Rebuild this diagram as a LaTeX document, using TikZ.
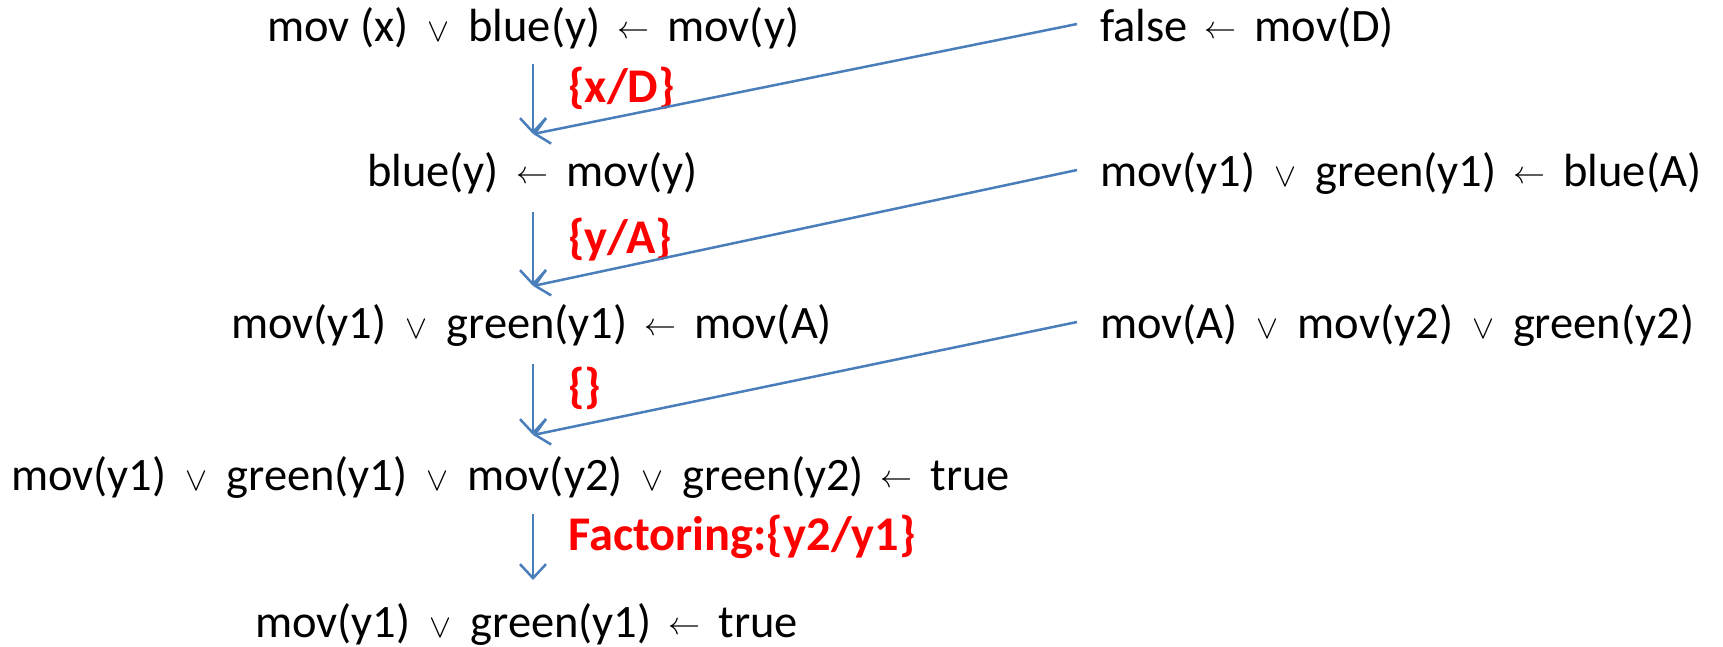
\documentclass[tikz,border=0pt]{standalone}
\usepackage{graphicx}
\usepackage{fontspec}
\setmainfont{Carlito}
\newcommand{\myor}{\hspace{19pt}\resizebox{22pt}{!}{$\vee$}\hspace{19pt}}
\newcommand{\myimp}{\hspace{17pt}\raisebox{3pt}{\resizebox{32pt}{!}{$\leftarrow$}}\hspace{18pt}}
\usetikzlibrary{arrows.meta}
\definecolor{arrowblue}{RGB}{74,126,187}
\definecolor{labelred}{RGB}{255,0,0}
\tikzset{
  term/.style={anchor=base west,inner sep=0pt,font=\fontsize{46.5}{54}\selectfont},
  sublabel/.style={anchor=base west,inner sep=0pt,text=labelred,font=\fontsize{48.4}{56}\selectfont\bfseries},
  flow/.style={draw=arrowblue,line width=2.5pt,-{Straight Barb[length=14pt,width=26pt,line width=2.5pt]}}
}
\begin{document}
\begin{tikzpicture}[x=1pt,y=-1pt]
\useasboundingbox (0,0) rectangle (1723,647);
% left column
\node[term] (l1) at (267,42) {mov (x)\myor blue(y)\myimp mov(y)};
\node[term] (l2) at (367,187) {blue(y)\myimp mov(y)};
\node[term] (l3) at (231,338) {mov(y1)\myor green(y1)\myimp mov(A)};
\node[term] (l4) at (11,490) {mov(y1)\myor green(y1)\myor mov(y2)\myor green(y2)\myimp true};
\node[term] (l5) at (255,637) {mov(y1)\myor green(y1)\myimp true};
% right column
\node[term] (r1) at (1100,42) {false\myimp mov(D)};
\node[term] (r2) at (1100,187) {mov(y1)\myor green(y1)\myimp blue(A)};
\node[term] (r3) at (1100,338) {mov(A)\myor mov(y2)\myor green(y2)};
% labels
\node[sublabel] (s1) at (568,103) {\{x/D\}};
\node[sublabel] (s2) at (568,253) {\{y/A\}};
\node[sublabel] (s3) at (568,402) {\{\}};
\node[sublabel] (s4) at (568,550) {Factoring:\{y2/y1\}};
% arrow end points
\coordinate (a1s) at (533,64);  \coordinate (a1e) at (533,134);
\coordinate (a2s) at (533,212); \coordinate (a2e) at (533,286);
\coordinate (a3s) at (533,364); \coordinate (a3e) at (533,435);
\coordinate (a4s) at (533,514); \coordinate (a4e) at (533,580);
\coordinate (d1s) at (1077,24);
\coordinate (d2s) at (1077,170);
\coordinate (d3s) at (1077,322);
\draw[flow] (a1s) -- (a1e);
\draw[flow] (a2s) -- (a2e);
\draw[flow] (a3s) -- (a3e);
\draw[flow] (a4s) -- (a4e);
\draw[flow] (d1s) -- (a1e);
\draw[flow] (d2s) -- (a2e);
\draw[flow] (d3s) -- (a3e);
\end{tikzpicture}
\end{document}
